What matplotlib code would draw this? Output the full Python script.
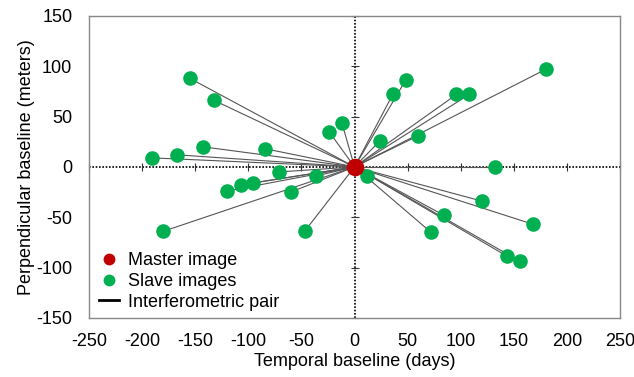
import matplotlib.pyplot as plt
from matplotlib.lines import Line2D

plt.rcParams['font.family'] = ['Liberation Sans', 'DejaVu Sans']
plt.rcParams['axes.unicode_minus'] = False

# temporal baseline (days) and perpendicular baseline (m) of slave images
slave_days = [-155, -132, -12, -24, -143, -84, -191, -167, -71, -36, -96, -107,
              -120, -60, -180, -47, 180, 48, 36, 96, 108, 24, 60, 132, 12, 120,
              168, 84, 72, 144, 156]
slave_perp = [88, 66, 44, 35, 20, 18, 9, 12, -5, -9, -16, -18,
              -24, -25, -64, -64, 97, 86, 72, 72, 72, 26, 31, 0, -9, -34,
              -57, -48, -65, -89, -94]
master_days = 0
master_perp = 0

xticks = [-250, -200, -150, -100, -50, 0, 50, 100, 150, 200, 250]
yticks = [-150, -100, -50, 0, 50, 100, 150]

fig = plt.figure(figsize=(6.34, 3.77), dpi=100)
ax = fig.add_axes([0.1404, 0.157, 0.8376, 0.8006])

# pair lines
for d, p in zip(slave_days, slave_perp):
    ax.plot([master_days, d], [master_perp, p], color='#555555', lw=0.8, zorder=2)

# dotted zero axes with small tick marks
ax.axhline(0, color='black', lw=1.2, ls=(0, (1, 1)), zorder=1)
ax.axvline(0, color='black', lw=1.2, ls=(0, (1, 1)), zorder=1)
ax.plot(xticks, [0] * len(xticks), ls='none', marker='|', ms=6, mew=0.8,
        color='#333333', zorder=1, clip_on=False)
ax.plot([0] * len(yticks), yticks, ls='none', marker='_', ms=6, mew=0.8,
        color='#333333', zorder=1, clip_on=False)

ax.scatter(slave_days, slave_perp, s=110, color='#00B050', zorder=3, lw=0)
ax.scatter([master_days], [master_perp], s=160, color='#C00000', zorder=4, lw=0)

ax.set_xlim(-250, 250)
ax.set_ylim(-150, 150)
ax.set_xticks(xticks)
ax.set_yticks(yticks)
ax.tick_params(length=0, labelsize=13)
ax.tick_params(axis='x', pad=11)
ax.tick_params(axis='y', pad=12)
for s in ax.spines.values():
    s.set_color('#888888')
    s.set_linewidth(1)

ax.set_xlabel('Temporal baseline (days)', fontsize=13, labelpad=2)
ax.set_ylabel('Perpendicular baseline (meters)', fontsize=13, labelpad=1)

handles = [
    Line2D([], [], ls='none', marker='o', ms=8.5, color='#C00000', mew=0),
    Line2D([], [], ls='none', marker='o', ms=8.5, color='#00B050', mew=0),
    Line2D([], [], color='black', lw=2),
]
ax.legend(handles, ['Master image', 'Slave images', 'Interferometric pair'],
          loc='lower left', bbox_to_anchor=(0.005, 0.0), frameon=False,
          fontsize=13, handlelength=1.1, handletextpad=0.5, labelspacing=0.2,
          borderaxespad=0.0)

fig.savefig('out.png', dpi=100)
